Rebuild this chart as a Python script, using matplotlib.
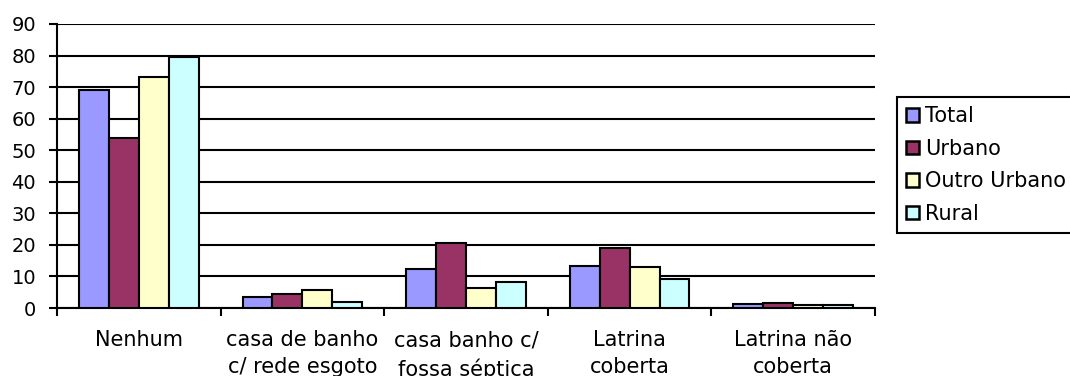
import matplotlib
matplotlib.use("Agg")
import matplotlib.pyplot as plt
from matplotlib.patches import Rectangle
import numpy as np

categories = ["Nenhum", "casa de banho\nc/ rede esgoto", "casa banho c/\nfossa séptica",
              "Latrina\ncoberta", "Latrina não\ncoberta"]
series_names = ["Total", "Urbano", "Outro Urbano", "Rural"]
total = [69.1, 3.5, 12.4, 13.4, 1.2]
urbano = [53.8, 4.5, 20.6, 19.1, 1.6]
outro_urbano = [73.3, 5.8, 6.3, 12.9, 1.0]
rural = [79.6, 1.8, 8.1, 9.1, 1.0]
colors = ["#9999FF", "#993366", "#FFFFCC", "#CCFFFF"]
yticks = [0, 10, 20, 30, 40, 50, 60, 70, 80, 90]

plt.rcParams['font.family'] = ['DejaVu Sans']
fig = plt.figure(figsize=(10.70, 3.76), dpi=100)
ax = fig.add_axes([57/1070, 1-308/376, (875-57)/1070, (308-24)/376])

x = np.arange(len(categories))
w = 0.183
data = [total, urbano, outro_urbano, rural]
for i, (vals, name, c) in enumerate(zip(data, series_names, colors)):
    ax.bar(x + (i - 1.5) * w, vals, width=w, color=c, edgecolor="black",
           linewidth=1.5, label=name, zorder=3)

ax.set_xlim(-0.5, len(categories) - 0.5)
ax.set_ylim(0, 90)
ax.set_yticks(yticks)
ax.yaxis.grid(True, color="black", linewidth=1.5, zorder=0)
ax.set_axisbelow(True)
ax.tick_params(axis="y", direction="out", length=6, width=1.5, pad=9, labelsize=14)

ax.set_xticks(x)
ax.set_xticklabels(categories, fontsize=15, linespacing=1.45, va="top")
ax.set_xticks(np.arange(-0.5, len(categories)), minor=True)
ax.tick_params(axis="x", which="major", length=0, pad=16)
ax.tick_params(axis="x", which="minor", direction="out", length=6, width=1.5)

for s in ["top", "right"]:
    ax.spines[s].set_visible(False)
ax.spines["left"].set_linewidth(1.5)
ax.spines["bottom"].set_linewidth(1.5)

# legend frame (extends past the right edge of the figure, as in the reference)
fig.patches.append(Rectangle((897/1070, 1-233/376), (1080-897)/1070, (233-97)/376,
                             transform=fig.transFigure, facecolor="white",
                             edgecolor="black", linewidth=1.5, zorder=1))
leg = fig.legend(loc="upper left", bbox_to_anchor=(897/1070, 1-97/376),
                 fontsize=15, frameon=False, borderaxespad=0,
                 handlelength=0.625, handleheight=0.625, handletextpad=0.28,
                 labelspacing=0.6, borderpad=0.44)
leg.set_zorder(2)
for h in leg.legend_handles:
    h.set_linewidth(1.8)

fig.savefig("out.png", dpi=100)
